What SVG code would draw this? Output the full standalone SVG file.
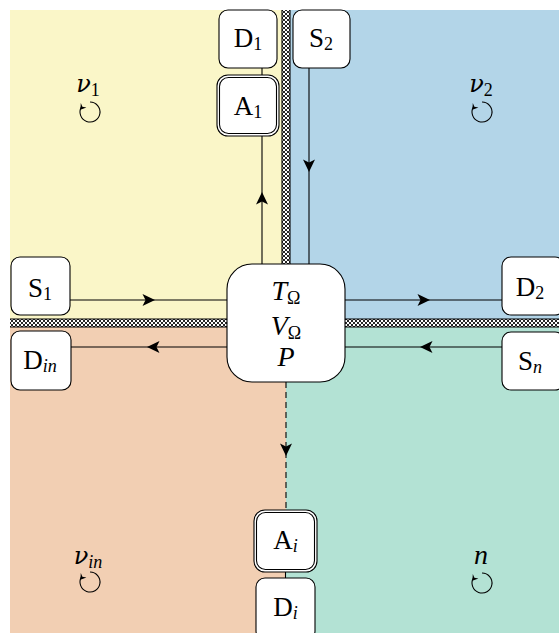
<svg xmlns="http://www.w3.org/2000/svg" width="559" height="633" viewBox="0 0 559 633">
<style>
.node{fill:#fff;stroke:#000;stroke-width:1.1}
.wire{fill:none;stroke:#000;stroke-width:1.1}
.lbl{font-family:"Liberation Serif",serif;font-size:27px;text-anchor:middle;fill:#000}
.math{font-family:"Liberation Serif",serif;font-style:italic;font-size:28px;text-anchor:middle;fill:#000}
.greek{font-family:"DejaVu Serif",serif;font-style:italic;font-size:24px;text-anchor:middle;fill:#000}
.sub{font-size:18px;font-style:normal;font-family:"Liberation Serif",serif}
.isub{font-size:18px;font-style:italic;font-family:"Liberation Serif",serif}
</style>
<defs>
<pattern id="hatchV" x="282" y="10" width="4" height="4" patternUnits="userSpaceOnUse">
<rect width="4" height="4" fill="#fff"/>
<path d="M0,0 L4,4 M0,4 L4,0" stroke="#000" stroke-width="0.85"/>
</pattern>
<pattern id="hatchH" x="10" y="319" width="4" height="4" patternUnits="userSpaceOnUse">
<rect width="4" height="4" fill="#fff"/>
<path d="M0,0 L4,4 M0,4 L4,0" stroke="#000" stroke-width="0.85"/>
</pattern>
<path id="ah" d="M0,0 L-12.5,-6 L-9.5,0 L-12.5,6 Z" fill="#000"/>
<g id="rot">
<path d="M0,-10 A10,10 0 1 1 -8.66,-5" fill="none" stroke="#000" stroke-width="1.1"/>
<path d="M-9.6,-2.2 L-9.2,-9 L-7.6,-5.2 L-3.6,-4.6 Z" fill="#000"/>
</g>
</defs>
<g id="regions">
<rect x="10" y="10" width="276" height="313" fill="#faf6c8"/>
<rect x="286" y="10" width="273" height="313" fill="#b3d5e8"/>
<rect x="10" y="323" width="276" height="310" fill="#f2cfb3"/>
<rect x="286" y="323" width="273" height="310" fill="#b3e2d4"/>
</g>
<g id="walls">
<rect x="282" y="10" width="8" height="254" fill="url(#hatchV)"/>
<path class="wire" d="M282,10 V264 M290,10 V264"/>
<rect x="10" y="319" width="549" height="8" fill="url(#hatchH)"/>
<path class="wire" d="M10,319 H559 M10,327 H559"/>
</g>
<g id="connectors">
<path class="wire" d="M262,68 V75 M262,136 V264"/>
<use href="#ah" transform="translate(262,192) rotate(-90)"/>
<path class="wire" d="M309,68 V264"/>
<use href="#ah" transform="translate(309,172) rotate(90)"/>
<path class="wire" d="M70,300 H227"/>
<use href="#ah" transform="translate(155,300)"/>
<path class="wire" d="M71,347 H227"/>
<use href="#ah" transform="translate(147,347) rotate(180)"/>
<path class="wire" d="M345,300 H502"/>
<use href="#ah" transform="translate(430,300)"/>
<path class="wire" d="M345,347 H502"/>
<use href="#ah" transform="translate(420,347) rotate(180)"/>
<path class="wire" d="M286,382 V510" stroke-dasharray="6 4"/>
<use href="#ah" transform="translate(286,456) rotate(90)"/>
<path class="wire" d="M285.5,572 V578"/>
</g>
<g id="center">
<rect class="node" x="227" y="264" width="118" height="118" rx="25"/>
<text class="math" x="286" y="300">T<tspan class="sub" dy="4">Ω</tspan></text>
<text class="math" x="286" y="335">V<tspan class="sub" dy="4">Ω</tspan></text>
<text class="math" x="286" y="366">P</text>
</g>
<g id="D1">
<rect class="node" x="219" y="10" width="58" height="58" rx="9"/>
<text class="lbl" x="248" y="47">D<tspan class="sub" dy="3">1</tspan></text>
</g>
<g id="A1">
<rect class="node" x="217" y="75" width="62" height="61" rx="11"/>
<rect class="node" x="219.5" y="77.5" width="57" height="56" rx="9"/>
<text class="lbl" x="248" y="115">A<tspan class="sub" dy="3">1</tspan></text>
</g>
<g id="S2">
<rect class="node" x="293" y="10" width="57" height="58" rx="9"/>
<text class="lbl" x="321" y="47">S<tspan class="sub" dy="3">2</tspan></text>
</g>
<g id="S1">
<rect class="node" x="11" y="257" width="59" height="58" rx="9"/>
<text class="lbl" x="40" y="297">S<tspan class="sub" dy="3">1</tspan></text>
</g>
<g id="Din">
<rect class="node" x="11" y="331" width="60" height="59" rx="9"/>
<text class="lbl" x="40" y="369">D<tspan class="isub" dy="3">in</tspan></text>
</g>
<g id="D2">
<rect class="node" x="502" y="257" width="62" height="58" rx="9"/>
<text class="lbl" x="530" y="296">D<tspan class="sub" dy="3">2</tspan></text>
</g>
<g id="Sn">
<rect class="node" x="502" y="332" width="62" height="58" rx="9"/>
<text class="lbl" x="530" y="370">S<tspan class="isub" dy="3">n</tspan></text>
</g>
<g id="Ai">
<rect class="node" x="254" y="510" width="63" height="62" rx="11"/>
<rect class="node" x="256.5" y="512.5" width="58" height="57" rx="9"/>
<text class="lbl" x="285.5" y="549">A<tspan class="isub" dy="3">i</tspan></text>
</g>
<g id="Di">
<rect class="node" x="256" y="578" width="59" height="62" rx="9"/>
<text class="lbl" x="285.5" y="616">D<tspan class="isub" dy="3">i</tspan></text>
</g>
<g id="labels">
<text class="greek" x="88" y="92">ν<tspan class="sub" dy="4">1</tspan></text>
<use href="#rot" transform="translate(90,112)"/>
<text class="greek" x="481" y="92">ν<tspan class="sub" dy="4">2</tspan></text>
<use href="#rot" transform="translate(482,112)"/>
<text class="greek" x="88" y="564">ν<tspan class="isub" dy="4">in</tspan></text>
<use href="#rot" transform="translate(90,582)"/>
<text class="math" x="481" y="564">n</text>
<use href="#rot" transform="translate(482,583)"/>
</g>
</svg>
